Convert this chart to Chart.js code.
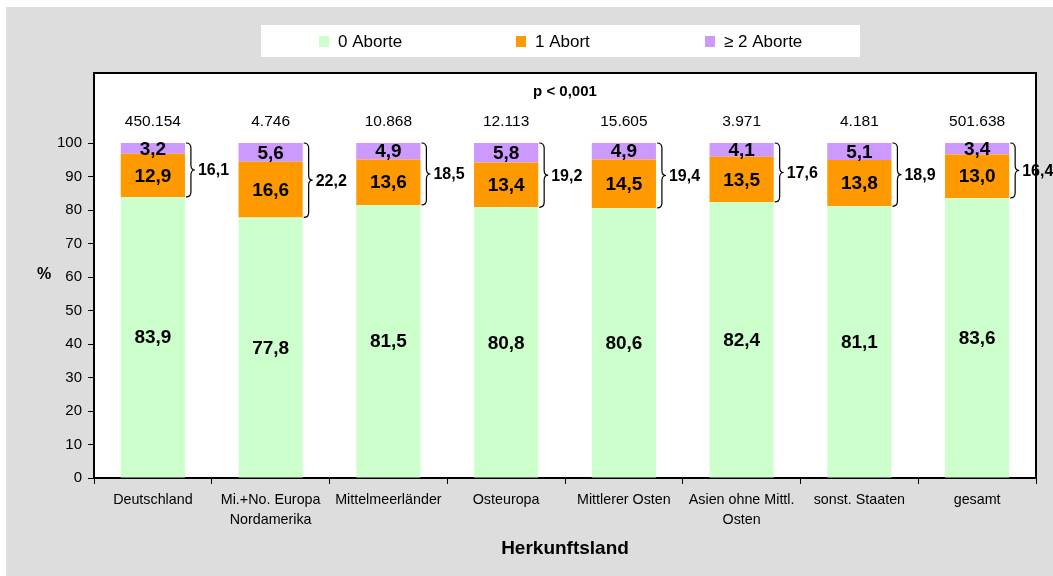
<!DOCTYPE html>
<html>
<head>
<meta charset="utf-8">
<script src="https://cdn.jsdelivr.net/npm/chart.js@4.4.0/dist/chart.umd.min.js"></script>
<style>
  html, body { margin: 0; padding: 0; background: #fff; }
  #wrap { width: 1053px; height: 576px; }
</style>
</head>
<body>
<div id="wrap"><canvas id="chart" width="1053" height="576"></canvas></div>
<script>
// Data
const countries = ['Deutschland', ['Mi.+No. Europa', 'Nordamerika'], 'Mittelmeerländer', 'Osteuropa',
    'Mittlerer Osten', ['Asien ohne Mittl.', 'Osten'], 'sonst. Staaten', 'gesamt'];
const noAbort = [83.9, 77.8, 81.5, 80.8, 80.6, 82.4, 81.1, 83.6];
const oneAbort = [12.9, 16.6, 13.6, 13.4, 14.5, 13.5, 13.8, 13.0];
const twoPlusAbort = [3.2, 5.6, 4.9, 5.8, 4.9, 4.1, 5.1, 3.4];
const anyAbort = [16.1, 22.2, 18.5, 19.2, 19.4, 17.6, 18.9, 16.4];
const caseCounts = ['450.154', '4.746', '10.868', '12.113', '15.605', '3.971', '4.181', '501.638'];
const yTickValues = [0, 10, 20, 30, 40, 50, 60, 70, 80, 90, 100];
const pValueText = 'p < 0,001';

const FONT = '"Liberation Sans", Arial, sans-serif';

function fmt(v) {
    return v.toFixed(1).replace('.', ',');
}

// curly brace, opening to the left, tip pointing right
function drawBrace(ctx, x, top, bottom, w) {
    const mid = (top + bottom) / 2;
    const r = 5;
    const xm = x + w * 0.55;
    ctx.beginPath();
    ctx.moveTo(x, top);
    ctx.quadraticCurveTo(xm, top, xm, top + r);
    ctx.lineTo(xm, mid - r);
    ctx.quadraticCurveTo(xm, mid, x + w, mid);
    ctx.quadraticCurveTo(xm, mid, xm, mid + r);
    ctx.lineTo(xm, bottom - r);
    ctx.quadraticCurveTo(xm, bottom, x, bottom);
    ctx.stroke();
}

const decorations = {
    id: 'decorations',
    beforeDraw(chart) {
        const ctx = chart.ctx;
        const a = chart.chartArea;
        ctx.save();
        ctx.fillStyle = '#ffffff';
        ctx.fillRect(0, 0, chart.width, chart.height);
        ctx.fillStyle = '#dddddd';
        ctx.fillRect(6, 7, chart.width - 6, chart.height - 7);
        ctx.fillStyle = '#ffffff';
        ctx.fillRect(a.left, a.top, a.right - a.left, a.bottom - a.top);
        ctx.restore();
    },
    afterDatasetsDraw(chart) {
        const ctx = chart.ctx;
        const a = chart.chartArea;
        const y = chart.scales.y;
        const m0 = chart.getDatasetMeta(0);
        const m1 = chart.getDatasetMeta(1);
        const m2 = chart.getDatasetMeta(2);
        ctx.save();
        ctx.fillStyle = '#000';
        ctx.textAlign = 'center';
        ctx.textBaseline = 'middle';
        for (let i = 0; i < countries.length; i++) {
            const b0 = m0.data[i], b1 = m1.data[i], b2 = m2.data[i];
            ctx.font = 'bold 19px ' + FONT;
            ctx.fillText(fmt(noAbort[i]), b0.x, (b0.y + b0.base) / 2 + 1);
            ctx.fillText(fmt(oneAbort[i]), b1.x, (b1.y + b1.base) / 2 + 1);
            ctx.fillText(fmt(twoPlusAbort[i]), b2.x, (b2.y + b2.base) / 2 + 1);

            // brace spanning 1 Abort + >=2 Aborte
            const bx = b2.x + b2.width / 2 + 1;
            ctx.strokeStyle = '#000';
            ctx.lineWidth = 1.2;
            drawBrace(ctx, bx, b2.y, b1.base, 9);
            ctx.textAlign = 'left';
            ctx.font = 'bold 16px ' + FONT;
            ctx.fillText(fmt(anyAbort[i]), bx + 12, (b2.y + b1.base) / 2 + 1);
            ctx.textAlign = 'center';

            // number of cases above the bar
            ctx.font = '15.5px ' + FONT;
            ctx.fillText(caseCounts[i], b2.x, y.getPixelForValue(100) - 21);
        }
        ctx.font = 'bold 15px ' + FONT;
        ctx.fillText(pValueText, (a.left + a.right) / 2, 92);
        ctx.restore();
    },
    afterDraw(chart) {
        const ctx = chart.ctx;
        const a = chart.chartArea;
        ctx.save();
        // frame of the plot area
        ctx.strokeStyle = '#000';
        ctx.lineWidth = 2;
        ctx.beginPath();
        ctx.moveTo(a.left, a.top);
        ctx.lineTo(a.right, a.top);
        ctx.lineTo(a.right, a.bottom);
        ctx.stroke();

        // legend
        ctx.fillStyle = '#ffffff';
        ctx.fillRect(261, 25, 599, 32);
        const legendX = [319, 516, 705];
        ctx.font = '17px ' + FONT;
        ctx.textAlign = 'left';
        ctx.textBaseline = 'middle';
        chart.data.datasets.forEach((ds, i) => {
            ctx.fillStyle = ds.backgroundColor;
            ctx.fillRect(legendX[i], 36, 10, 11);
            ctx.fillStyle = '#000';
            ctx.fillText(ds.label, legendX[i] + 19, 42);
        });

        // axis titles
        ctx.textAlign = 'center';
        ctx.font = 'bold 19px ' + FONT;
        ctx.fillText('Herkunftsland', (a.left + a.right) / 2, 549);
        ctx.font = 'bold 16px ' + FONT;
        ctx.fillText('%', 44, 275);
        ctx.restore();
    }
};

const ctx = document.getElementById('chart').getContext('2d');
const abortChart = new Chart(ctx, {
    type: 'bar',
    data: {
        labels: countries,
        datasets: [{
            label: '0 Aborte',
            data: noAbort,
            backgroundColor: '#ccffcc'
        }, {
            label: '1 Abort',
            data: oneAbort,
            backgroundColor: '#ff9900'
        }, {
            label: '≥ 2 Aborte',
            data: twoPlusAbort,
            backgroundColor: '#cc99ff'
        }]
    },
    options: {
        responsive: false,
        animation: false,
        layout: {
            padding: { top: 73, right: 17, left: 0, bottom: 0 }
        },
        datasets: {
            bar: {
                categoryPercentage: 1,
                barPercentage: 0.545,
                borderWidth: 0
            }
        },
        plugins: {
            legend: { display: false },
            tooltip: { enabled: false }
        },
        scales: {
            x: {
                stacked: true,
                afterFit: (scale) => { scale.height = 98; },
                grid: {
                    offset: true,
                    drawOnChartArea: false,
                    tickLength: 6,
                    color: '#000'
                },
                border: { color: '#000', width: 2 },
                ticks: {
                    color: '#000',
                    padding: 6,
                    maxRotation: 0,
                    autoSkip: false,
                    font: { family: FONT, size: 14.3, lineHeight: 1.42 }
                }
            },
            y: {
                stacked: true,
                min: 0,
                max: 120.9,
                afterFit: (scale) => { scale.width = 94; },
                afterBuildTicks: (scale) => {
                    scale.ticks = yTickValues.map(v => ({ value: v }));
                },
                grid: {
                    drawOnChartArea: false,
                    tickLength: 6,
                    color: '#000'
                },
                border: { color: '#000', width: 2 },
                ticks: {
                    color: '#000',
                    padding: 6,
                    font: { family: FONT, size: 15 }
                }
            }
        }
    },
    plugins: [decorations]
});
</script>
</body>
</html>
